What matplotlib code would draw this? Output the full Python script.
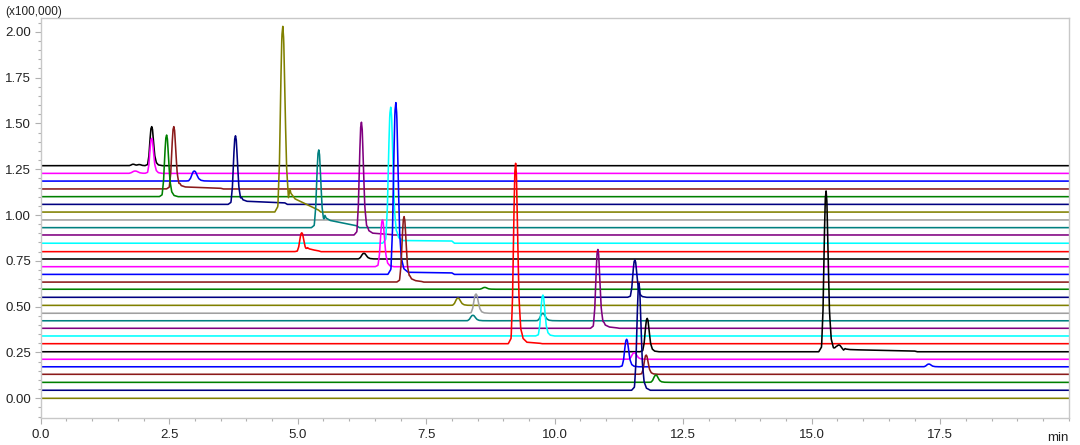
import numpy as np
import matplotlib
matplotlib.use("Agg")
import matplotlib.pyplot as plt
from matplotlib.ticker import MultipleLocator

plt.rcParams['font.family'] = ['Liberation Sans', 'DejaVu Sans']

# ---- data ----
# baselines of the 31 stacked traces (top to bottom), unit x100,000
baselines = [1.269, 1.227, 1.185, 1.142, 1.100, 1.058, 1.016, 0.973, 0.931, 0.891,
             0.846, 0.800, 0.760, 0.718, 0.676, 0.634, 0.595, 0.551, 0.507, 0.464,
             0.423, 0.382, 0.340, 0.298, 0.254, 0.213, 0.172, 0.131, 0.087, 0.044,
             0.000]
palette = ['#000000', '#FF00FF', '#0000FF', '#8B1A1A', '#008000', '#000080',
           '#808000', '#A0A0A0', '#008080', '#800080', '#00FFFF', '#FF0000']

# peaks: trace index, retention time (min), height, width factor
peak_trace = [0, 0, 0, 1, 1, 2, 3, 4, 5, 6, 8, 9, 10, 11, 12, 13, 14, 15, 16, 17,
              18, 19, 20, 20, 21, 22, 23, 24, 24, 24, 25, 26, 26, 27, 28, 29]
peak_time = [2.16, 1.80, 1.92, 2.16, 1.84, 2.99, 2.59, 2.45, 3.79, 4.71, 5.41, 6.24,
             6.81, 5.08, 6.29, 6.65, 6.91, 7.07, 8.64, 11.56, 8.12, 8.47, 8.41, 9.77,
             10.84, 9.77, 9.24, 11.80, 15.28, 15.53, 11.55, 11.40, 17.28, 11.78,
             11.97, 11.64]
peak_height = [0.213, 0.008, 0.006, 0.191, 0.013, 0.055, 0.340, 0.336, 0.374, 1.013,
               0.424, 0.615, 0.742, 0.103, 0.031, 0.255, 0.937, 0.357, 0.010, 0.204,
               0.040, 0.105, 0.030, 0.040, 0.430, 0.223, 0.984, 0.182, 0.877, 0.037,
               0.036, 0.150, 0.015, 0.105, 0.040, 0.583]
peak_width = [1.0, 1.0, 1.0, 1.0, 1.5, 1.4, 1.1, 1.1, 1.1, 1.2, 1.1, 1.1, 1.2, 1.1,
              1.3, 1.1, 1.2, 1.1, 1.2, 1.1, 1.3, 1.2, 1.3, 1.3, 1.1, 1.1, 1.1, 1.1,
              1.1, 1.5, 1.3, 1.1, 1.2, 1.1, 1.2, 1.1]

# peak profile read from a representative peak (offset in min, fraction of height)
shape_dt = [-0.13, -0.08, -0.055, -0.035, -0.015, 0.0, 0.015, 0.035, 0.06, 0.09, 0.13, 0.20]
shape_frac = [0.0, 0.03, 0.25, 0.65, 0.95, 1.0, 0.93, 0.60, 0.25, 0.08, 0.02, 0.0]

# tailing after peaks: trace, start, end, level at start, level at end
tail_trace = [3, 5, 6, 8, 9, 10, 11, 14, 15, 21, 23, 24]
tail_start = [2.68, 3.88, 4.82, 5.50, 6.33, 6.90, 5.16, 7.00, 7.15, 10.93, 9.33, 15.62]
tail_end = [3.50, 4.75, 5.40, 6.15, 6.80, 8.00, 5.40, 8.00, 7.40, 11.20, 9.70, 17.00]
tail_level_start = [0.012, 0.018, 0.085, 0.045, 0.012, 0.015, 0.015, 0.012, 0.012, 0.010, 0.010, 0.012]
tail_level_end = [0.004, 0.008, 0.012, 0.010, 0.003, 0.012, 0.005, 0.008, 0.004, 0.003, 0.003, 0.004]

y_tick_values = [0.00, 0.25, 0.50, 0.75, 1.00, 1.25, 1.50, 1.75, 2.00]
y_tick_labels = ['0.00', '0.25', '0.50', '0.75', '1.00', '1.25', '1.50', '1.75', '2.00']
x_tick_values = [0.0, 2.5, 5.0, 7.5, 10.0, 12.5, 15.0, 17.5]
x_tick_labels = ['0.0', '2.5', '5.0', '7.5', '10.0', '12.5', '15.0', '17.5']

# ---- build traces ----
t = np.linspace(0, 20, 4001)
n = len(baselines)
signals = [np.zeros_like(t) for _ in range(n)]
sdt = np.array(shape_dt)
for k, tm, h, w in zip(peak_trace, peak_time, peak_height, peak_width):
    signals[k] += h * np.interp(t, tm + sdt * w, shape_frac, left=0, right=0)
for k, s, e, ls, le in zip(tail_trace, tail_start, tail_end, tail_level_start, tail_level_end):
    signals[k] += np.interp(t, [s, s + 0.03, e, e + 0.05], [0, ls, le, 0], left=0, right=0)

fig = plt.figure(figsize=(10.8, 4.45), dpi=100)
ax = fig.add_axes([40.7 / 1080, 1 - 418.3 / 445, (1068.7 - 40.7) / 1080, (418.3 - 18.3) / 445])

for k in range(n):
    ax.plot(t, baselines[k] + signals[k], color=palette[k % 12], lw=1.15,
            zorder=2 + k * 0.01, solid_joinstyle='round')

ax.set_xlim(0, 20)
ax.set_ylim(-0.109, 2.073)
ax.set_xticks(x_tick_values)
ax.set_xticklabels(x_tick_labels)
ax.set_yticks(y_tick_values)
ax.set_yticklabels(y_tick_labels)
ax.xaxis.set_minor_locator(MultipleLocator(0.5))
ax.yaxis.set_minor_locator(MultipleLocator(0.05))

for sp in ax.spines.values():
    sp.set_color('#c8c8c8')
    sp.set_linewidth(1.0)
ax.tick_params(axis='both', which='major', direction='out', length=4, width=0.8,
               color='#b0b0b0', labelsize=9.5, labelcolor='#222222')
ax.tick_params(axis='both', which='minor', direction='out', length=2.5, width=0.8,
               color='#b0b0b0')
ax.tick_params(axis='x', which='major', pad=4)
ax.tick_params(axis='y', which='major', pad=3)

ax.text(1.0, -0.035, 'min', transform=ax.transAxes, ha='right', va='top',
        fontsize=9.5, color='#222222')
fig.text(5 / 1080, 1 - 12 / 445, '(x100,000)', ha='left', va='center',
         fontsize=8.5, color='#222222')

fig.savefig('out.png', dpi=100)
